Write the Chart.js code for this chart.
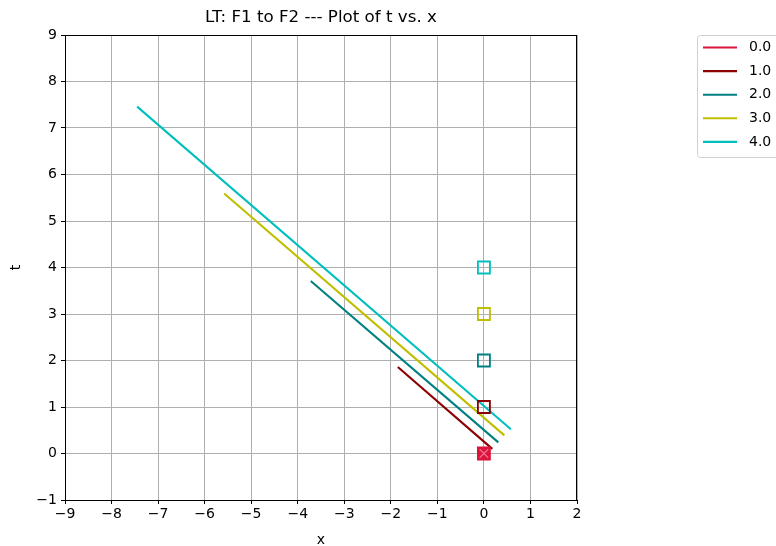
<!DOCTYPE html>
<html>
<head>
<meta charset="utf-8">
<script src="https://cdn.jsdelivr.net/npm/chart.js@4.4.1/dist/chart.umd.min.js"></script>
<style>
  html, body { margin: 0; padding: 0; background: #fff; }
  #wrap { width: 776px; height: 546px; position: relative; }
</style>
</head>
<body>
<div id="wrap"><canvas id="chart" width="776" height="546"></canvas></div>
<script>
// --- Data ---
const seriesLabels = ['0.0', '1.0', '2.0', '3.0', '4.0'];
const seriesColors = ['#dc143c', '#8b0000', '#008080', '#bfbf00', '#00bfbf'];
const startX = [0, -1.85, -3.72, -5.58, -7.45];
const startT = [0, 1.86, 3.71, 5.59, 7.46];
const endX = [0, 0.18, 0.31, 0.44, 0.58];
const endT = [0, 0.10, 0.24, 0.39, 0.52];
// event markers at x = 0
const markerX = [0, 0, 0, 0, 0];
const markerT = [0, 1, 2, 3, 4];
const xTicks = [-9, -8, -7, -6, -5, -4, -3, -2, -1, 0, 1, 2];
const yTicks = [-1, 0, 1, 2, 3, 4, 5, 6, 7, 8, 9];

const FONT = 'DejaVu Sans, sans-serif';
const minus = (v) => String(v).replace('-', '\u2212');

const datasets = [];
seriesLabels.forEach((lab, i) => {
  datasets.push({
    label: lab,
    type: 'line',
    data: [{ x: startX[i], y: startT[i] }, { x: endX[i], y: endT[i] }],
    borderColor: seriesColors[i],
    backgroundColor: seriesColors[i],
    borderWidth: 2.1,
    pointRadius: 0,
    showLine: true,
    order: 2
  });
});
seriesLabels.forEach((lab, i) => {
  datasets.push({
    label: 'ev' + lab,
    type: 'scatter',
    data: [{ x: markerX[i], y: markerT[i] }],
    pointStyle: 'rect',
    pointRadius: 8.5,
    borderWidth: 1.8,
    borderColor: seriesColors[i],
    backgroundColor: i === 0 ? seriesColors[i] : 'rgba(0,0,0,0)',
    order: 1
  });
});
// cross marker on the first event
datasets.push({
  label: 'evx',
  type: 'scatter',
  data: [{ x: markerX[0], y: markerT[0] }],
  pointStyle: 'crossRot',
  pointRadius: 6,
  borderWidth: 1.2,
  borderColor: '#f07088',
  order: 0
});

// --- Title, frame, axis labels, legend ---
const decorPlugin = {
  id: 'decor',
  afterDraw(chart) {
    const { ctx, chartArea: a } = chart;
    ctx.save();
    ctx.strokeStyle = '#000';
    ctx.lineWidth = 1;
    ctx.strokeRect(Math.round(a.left) + 0.5, Math.round(a.top) + 0.5,
      Math.round(a.right - a.left) - 1, Math.round(a.bottom - a.top));

    ctx.fillStyle = '#000';
    ctx.textAlign = 'center';
    ctx.textBaseline = 'middle';
    ctx.font = '16.7px ' + FONT;
    ctx.fillText('LT: F1 to F2 --- Plot of t vs. x', (a.left + a.right) / 2, 18);
    ctx.font = '14px ' + FONT;
    ctx.fillText('x', (a.left + a.right) / 2, 540);
    ctx.save();
    ctx.translate(16, (a.top + a.bottom) / 2);
    ctx.rotate(-Math.PI / 2);
    ctx.fillText('t', 0, 0);
    ctx.restore();

    // legend
    const lx = 697, ly = 35, rowH = 23.6;
    ctx.strokeStyle = '#d0d0d0';
    ctx.lineWidth = 1;
    ctx.beginPath();
    ctx.roundRect(lx + 0.5, ly + 0.5, 100, 122, 3);
    ctx.stroke();
    ctx.font = '14px ' + FONT;
    ctx.textAlign = 'left';
    seriesLabels.forEach((lab, i) => {
      const y = ly + 12.5 + i * rowH;
      ctx.strokeStyle = seriesColors[i];
      ctx.lineWidth = 2.1;
      ctx.beginPath();
      ctx.moveTo(703, y);
      ctx.lineTo(737, y);
      ctx.stroke();
      ctx.fillStyle = '#000';
      ctx.fillText(lab, 749, y);
    });
    ctx.restore();
  }
};

new Chart(document.getElementById('chart').getContext('2d'), {
  type: 'scatter',
  data: { datasets },
  options: {
    responsive: false,
    animation: false,
    layout: { padding: { top: 35, right: 199, left: 0, bottom: 0 } },
    plugins: { legend: { display: false }, tooltip: { enabled: false }, title: { display: false } },
    scales: {
      x: {
        type: 'linear', min: -9, max: 2,
        afterBuildTicks: (s) => { s.ticks = xTicks.map(v => ({ value: v })); },
        afterFit: (s) => { s.height = 46; },
        ticks: { color: '#000', font: { family: FONT, size: 14 }, padding: 2, callback: (v) => minus(v) },
        grid: { color: '#b0b0b0', lineWidth: 1, tickColor: '#000', tickLength: 4 },
        border: { display: false }
      },
      y: {
        type: 'linear', min: -1, max: 9,
        afterBuildTicks: (s) => { s.ticks = yTicks.map(v => ({ value: v })); },
        afterFit: (s) => { s.width = 65; },
        ticks: { color: '#000', font: { family: FONT, size: 14 }, padding: 4, callback: (v) => minus(v) },
        grid: { color: '#b0b0b0', lineWidth: 1, tickColor: '#000', tickLength: 4 },
        border: { display: false }
      }
    }
  },
  plugins: [decorPlugin]
});
</script>
</body>
</html>
